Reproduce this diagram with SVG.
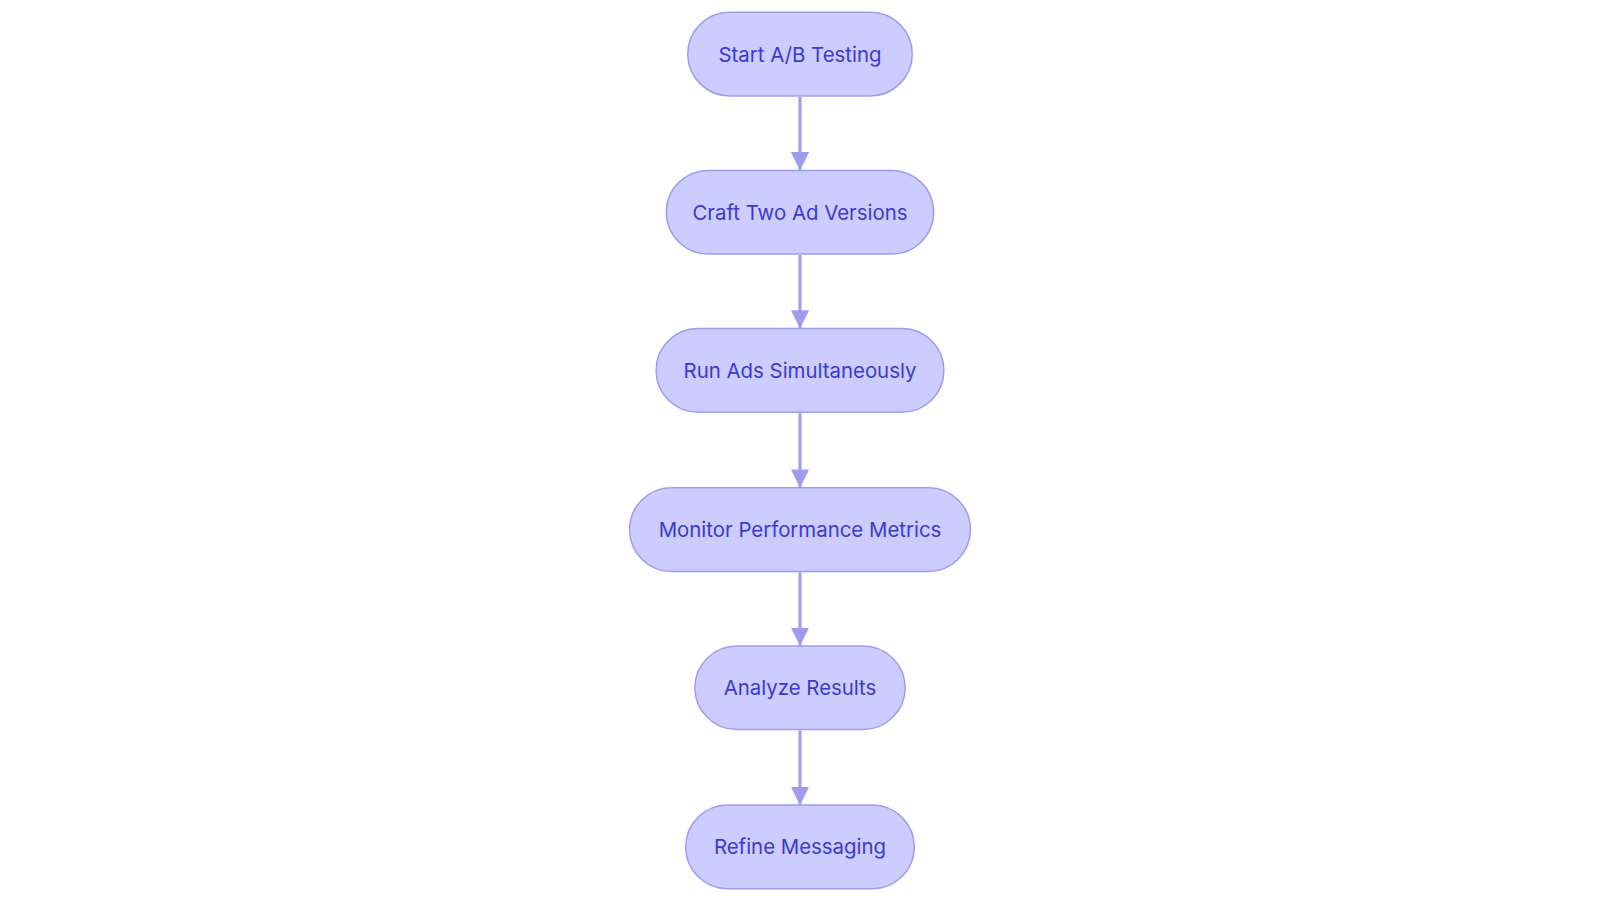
<svg xmlns="http://www.w3.org/2000/svg" width="1600" height="903" viewBox="0 0 1600 903">
<style>
.n rect{fill:#ccccff;stroke:#9d9df0;stroke-width:1.5}
.n text{font-family:Inter,"Noto Sans",sans-serif;font-size:20px;fill:#3a3ad0;text-anchor:middle;dominant-baseline:central}
.e line{stroke:#9d9df0;stroke-width:3;marker-end:url(#a)}
</style>
<defs><marker id="a" viewBox="0 0 10 10" refX="10" refY="5" markerWidth="6" markerHeight="6" markerUnits="strokeWidth" orient="auto"><path d="M0,0L10,5L0,10z" fill="#9d9df0"/></marker></defs>
<rect width="1600" height="903" fill="#fff"/>
<g transform="scale(1.0204)">
<g class="e">
<line x1="784" y1="95" x2="784" y2="167"/>
<line x1="784" y1="250" x2="784" y2="322"/>
<line x1="784" y1="405" x2="784" y2="478"/>
<line x1="784" y1="561" x2="784" y2="633"/>
<line x1="784" y1="716" x2="784" y2="789"/>
</g>
<g id="n1" class="n"><rect x="674" y="12" width="220" height="82" rx="41"/><text x="784" y="53">Start A/B Testing</text></g>
<g id="n2" class="n"><rect x="653" y="167" width="262" height="82" rx="41"/><text x="784" y="208">Craft Two Ad Versions</text></g>
<g id="n3" class="n"><rect x="643" y="322" width="282" height="82" rx="41"/><text x="784" y="363">Run Ads Simultaneously</text></g>
<g id="n4" class="n"><rect x="617" y="478" width="334" height="82" rx="41"/><text x="784" y="519">Monitor Performance Metrics</text></g>
<g id="n5" class="n"><rect x="681" y="633" width="206" height="82" rx="41"/><text x="784" y="674">Analyze Results</text></g>
<g id="n6" class="n"><rect x="672" y="789" width="224" height="82" rx="41"/><text x="784" y="830">Refine Messaging</text></g>
</g>
</svg>
